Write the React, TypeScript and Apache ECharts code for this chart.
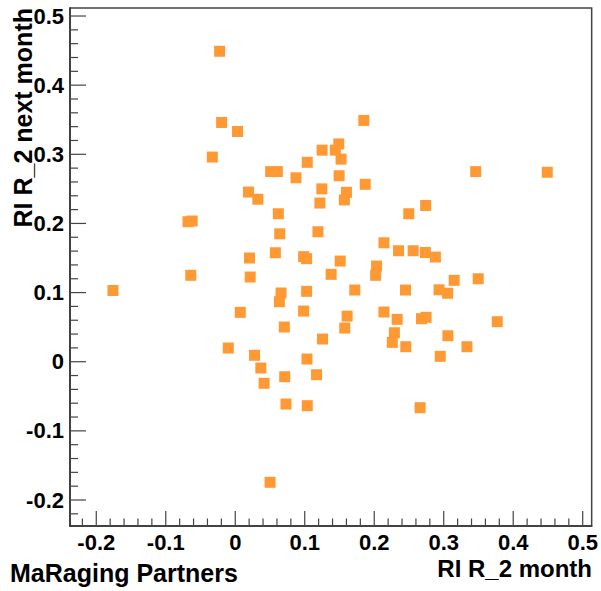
import React, { useEffect, useRef } from "react";
import * as echarts from "echarts";

// RI R_2 month (x) vs RI R_2 next month (y)
const xValues = [
  -0.0225, -0.0196, 0.0033, -0.033, 0.185, 0.449, 0.346, -0.176, -0.068, -0.062,
  -0.064, 0.019, 0.0325, 0.051, 0.0606, 0.1036, 0.0874, 0.125, 0.144, 0.149,
  0.1523, 0.1495, 0.187, 0.1246, 0.16, 0.157, 0.1218, 0.274, 0.2497, 0.062,
  0.064, 0.119, 0.214, 0.235, 0.256, 0.2736, 0.288, 0.0205, 0.0577, 0.0984,
  0.1027, 0.151, 0.2034, 0.202, 0.0215, 0.138, 0.315, 0.3496, 0.2933, 0.3056,
  0.0659, 0.0635, 0.1027, 0.172, 0.245, 0.0072, 0.0984, 0.161, 0.1576, 0.0706,
  0.1256, 0.214, 0.233, 0.229, 0.226, 0.2454, 0.268, 0.2746, 0.377, 0.306,
  0.3334, 0.295, -0.01, 0.0277, 0.0368, 0.0415, 0.0712, 0.1032, 0.117, 0.073,
  0.1036, 0.266, 0.0501,
];
const yValues = [
  0.449, 0.346, 0.333, 0.296, 0.349, 0.274, 0.275, 0.103, 0.2025, 0.2035,
  0.125, 0.2454, 0.235, 0.275, 0.275, 0.2884, 0.266, 0.306, 0.306, 0.315,
  0.293, 0.269, 0.2566, 0.25, 0.245, 0.234, 0.2295, 0.226, 0.214, 0.214,
  0.185, 0.188, 0.172, 0.1605, 0.1605, 0.158, 0.1514, 0.15, 0.1576, 0.152,
  0.149, 0.1456, 0.1384, 0.125, 0.1225, 0.1264, 0.1177, 0.12, 0.104, 0.099,
  0.0994, 0.0868, 0.1018, 0.1037, 0.1037, 0.0714, 0.0733, 0.066, 0.0487, 0.0502,
  0.0328, 0.0719, 0.0613, 0.0419, 0.028, 0.0217, 0.0622, 0.0642, 0.0579, 0.0376,
  0.0217, 0.0078, 0.0198, 0.0093, -0.0091, -0.0312, -0.0217, 0.0039, -0.0188, -0.0612,
  -0.0636, -0.0665, -0.1744,
];

const xMajorTicks = [-0.2, -0.1, 0, 0.1, 0.2, 0.3, 0.4, 0.5];
const yMajorTicks = [-0.2, -0.1, 0, 0.1, 0.2, 0.3, 0.4, 0.5];

const X_MIN = -0.2378;
const X_MAX = 0.5129;
const Y_MIN = -0.2376;
const Y_MAX = 0.5116;

const xTitle = "RI R_2 month";
const yTitle = "RI R_2 next month";
const footer = "MaRaging Partners";

const FONT = "'Liberation Sans', Arial, sans-serif";
const MARKER = "#FF9933";
const TICK_COLOR = "#444";

// minor ticks every 0.02 inside the axis range
function minorTicks(min: number, max: number): number[] {
  const out: number[] = [];
  for (let k = Math.ceil(min / 0.02); k * 0.02 <= max + 1e-9; k++) {
    if (k % 5 !== 0) out.push(Math.round(k * 0.02 * 100) / 100);
  }
  return out;
}

const fmt = (v: number) => {
  const r = Math.round(v * 10) / 10;
  return r === 0 ? "0" : String(r);
};

function valueAxis(
  min: number,
  max: number,
  position: "bottom" | "left",
  labels: number[],
  margin: number
) {
  return {
    type: "value" as const,
    min,
    max,
    position,
    axisLine: { show: true, onZero: false, lineStyle: { color: "#333", width: 1.5 } },
    axisTick: { show: false },
    axisLabel: {
      show: true,
      fontFamily: FONT,
      fontWeight: "bold" as const,
      fontSize: 22,
      lineHeight: 18,
      color: "#000",
      margin,
      customValues: labels,
      formatter: fmt,
    },
    splitLine: { show: false },
  };
}

// inward tick marks along the bottom axis, placed through the axis scale
function xTickSeries(values: number[], length: number) {
  return {
    type: "custom" as const,
    silent: true,
    clip: false,
    data: values.map((v) => [v, Y_MIN]),
    renderItem: (_p: any, api: any) => {
      const pt = api.coord([api.value(0), Y_MIN]);
      return {
        type: "line",
        shape: { x1: pt[0], y1: pt[1], x2: pt[0], y2: pt[1] - length },
        style: { stroke: TICK_COLOR, lineWidth: 1.2 },
      };
    },
  };
}

// inward tick marks along the left axis
function yTickSeries(values: number[], length: number) {
  return {
    type: "custom" as const,
    silent: true,
    clip: false,
    data: values.map((v) => [X_MIN, v]),
    renderItem: (_p: any, api: any) => {
      const pt = api.coord([X_MIN, api.value(1)]);
      return {
        type: "line",
        shape: { x1: pt[0], y1: pt[1], x2: pt[0] + length, y2: pt[1] },
        style: { stroke: TICK_COLOR, lineWidth: 1.2 },
      };
    },
  };
}

export default function App() {
  const ref = useRef<HTMLDivElement>(null);

  useEffect(() => {
    if (!ref.current) return;
    const chart = echarts.init(ref.current, null, { renderer: "svg" });

    const points = xValues.map((x, i) => [x, yValues[i]]);

    chart.setOption({
      animation: false,
      backgroundColor: "#fff",
      grid: {
        left: 70,
        right: 7,
        top: 8,
        bottom: 65,
        show: true,
        borderColor: "#444",
        borderWidth: 1.5,
        backgroundColor: "transparent",
      },
      xAxis: valueAxis(X_MIN, X_MAX, "bottom", xMajorTicks, 7),
      yAxis: valueAxis(Y_MIN, Y_MAX, "left", yMajorTicks, 6),
      series: [
        xTickSeries(xMajorTicks, 15),
        xTickSeries(minorTicks(X_MIN, X_MAX), 7.5),
        yTickSeries(yMajorTicks, 16),
        yTickSeries(minorTicks(Y_MIN, Y_MAX), 8),
        {
          type: "scatter",
          symbol: "rect",
          symbolSize: 11,
          itemStyle: { color: MARKER, opacity: 1 },
          data: points,
        },
      ],
      graphic: [
        {
          type: "text",
          x: 592,
          y: 568,
          style: {
            text: xTitle,
            fontFamily: FONT,
            fontWeight: "bold",
            fontSize: 24,
            lineHeight: 20,
            fill: "#000",
            align: "right",
            verticalAlign: "middle",
          },
        },
        {
          type: "text",
          x: 23,
          y: 8,
          rotation: Math.PI / 2,
          style: {
            text: yTitle,
            fontFamily: FONT,
            fontWeight: "bold",
            fontSize: 25,
            lineHeight: 20,
            fill: "#000",
            align: "right",
            verticalAlign: "middle",
          },
        },
        {
          type: "text",
          x: 10,
          y: 573,
          style: {
            text: footer,
            fontFamily: FONT,
            fontWeight: "bold",
            fontSize: 25,
            lineHeight: 20,
            fill: "#000",
            align: "left",
            verticalAlign: "middle",
          },
        },
      ],
    });

    return () => chart.dispose();
  }, []);

  return (
    <div
      ref={ref}
      style={{ position: "fixed", left: 0, top: 0, width: 601, height: 591, background: "#fff" }}
    />
  );
}
